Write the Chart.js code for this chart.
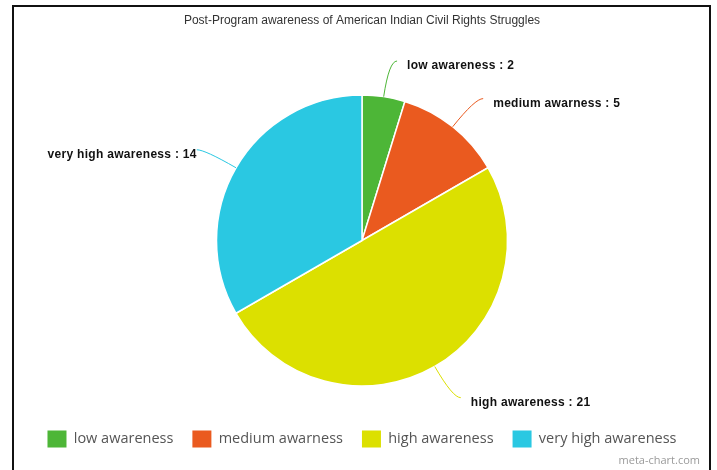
<!DOCTYPE html>
<html>
<head>
<meta charset="utf-8">
<script src="https://cdn.jsdelivr.net/npm/chart.js@4"></script>
<style>
  html, body { margin: 0; padding: 0; background: #fff; }
  #wrap { width: 717px; height: 470px; }
</style>
</head>
<body>
<div id="wrap"><canvas id="chart" width="717" height="470"></canvas></div>
<script>
const title = 'Post-Program awareness of American Indian Civil Rights Struggles';
const categories = ['low awareness', 'medium awarness', 'high awareness', 'very high awareness'];
const values = [2, 5, 21, 14];
const colors = ['#4db637', '#ea5a1f', '#dce000', '#2ac8e2'];

// frame around the picture + footer text
const framePlugin = {
    id: 'frame',
    beforeDraw(chart) {
        const ctx = chart.ctx;
        ctx.save();
        ctx.fillStyle = '#fff';
        ctx.fillRect(0, 0, chart.width, chart.height);
        ctx.strokeStyle = '#111';
        ctx.lineWidth = 2;
        ctx.beginPath();
        ctx.moveTo(13, chart.height + 2);
        ctx.lineTo(13, 6);
        ctx.lineTo(710, 6);
        ctx.lineTo(710, chart.height + 2);
        ctx.stroke();
        ctx.restore();
    },
    afterDraw(chart) {
        const ctx = chart.ctx;
        ctx.save();
        ctx.fillStyle = '#9a9a9a';
        ctx.font = '11px "Open Sans"';
        ctx.textAlign = 'right';
        ctx.textBaseline = 'middle';
        ctx.fillText('meta-chart.com', 700, 461);
        ctx.restore();
    }
};

// callout labels with curved leader lines
const calloutPlugin = {
    id: 'callouts',
    afterDatasetsDraw(chart) {
        const ctx = chart.ctx;
        const meta = chart.getDatasetMeta(0);
        ctx.save();
        meta.data.forEach((arc, i) => {
            const p = arc.getProps(['x', 'y', 'startAngle', 'endAngle', 'outerRadius'], true);
            const mid = (p.startAngle + p.endAngle) / 2;
            const cos = Math.cos(mid), sin = Math.sin(mid);
            const side = cos >= 0 ? 1 : -1;
            const sx = p.x + cos * p.outerRadius;
            const sy = p.y + sin * p.outerRadius;
            const ex = p.x + cos * (p.outerRadius + 36);
            const ey = p.y + sin * (p.outerRadius + 36);
            const tx = ex + side * 8;
            ctx.strokeStyle = colors[i];
            ctx.lineWidth = 1;
            ctx.beginPath();
            ctx.moveTo(sx, sy);
            ctx.quadraticCurveTo(ex, ey, tx, ey);
            ctx.stroke();

            ctx.fillStyle = '#111';
            ctx.font = 'bold 12px "Liberation Sans", Arial';
            ctx.letterSpacing = '0.3px';
            ctx.textBaseline = 'middle';
            ctx.textAlign = side > 0 ? 'left' : 'right';
            ctx.fillText(categories[i] + ' : ' + values[i], side > 0 ? tx + 10 : tx, ey + 5);
        });
        ctx.restore();
    }
};

new Chart(document.getElementById('chart'), {
    type: 'pie',
    data: {
        labels: categories,
        datasets: [{
            data: values,
            backgroundColor: colors,
            borderColor: '#fff',
            borderWidth: 1.5,
            radius: 145.5
        }]
    },
    options: {
        responsive: false,
        animation: false,
        layout: {
            padding: { left: 7, right: 0, top: 0, bottom: 12.5 }
        },
        plugins: {
            title: {
                display: true,
                text: title,
                color: '#333',
                font: { family: '"Liberation Sans", Arial', size: 12, weight: 'normal' },
                padding: { top: 13, bottom: 42.1 }
            },
            legend: {
                position: 'bottom',
                labels: {
                    boxWidth: 19,
                    boxHeight: 17,
                    padding: 19,
                    color: '#555',
                    font: { family: '"Open Sans"', size: 14.5 },
                    generateLabels(chart) {
                        const items = Chart.overrides.pie.plugins.legend.labels.generateLabels(chart);
                        items.forEach(it => { it.lineWidth = 0; it.strokeStyle = it.fillStyle; });
                        return items;
                    }
                }
            },
            tooltip: { enabled: false }
        }
    },
    plugins: [framePlugin, calloutPlugin]
});
</script>
</body>
</html>
